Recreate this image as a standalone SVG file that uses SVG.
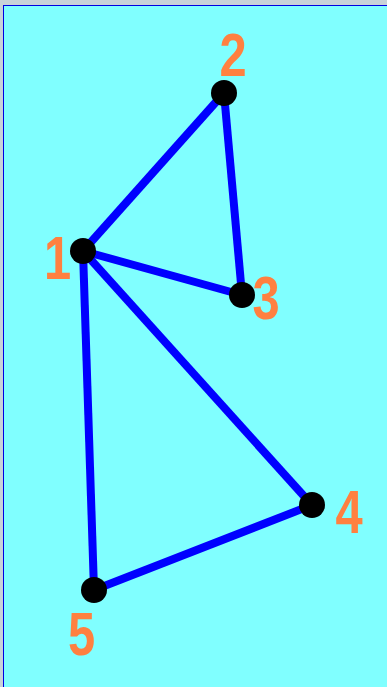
<svg xmlns="http://www.w3.org/2000/svg" width="387" height="687" viewBox="0 0 387 687">
<style>
.edge{stroke:#0000ff;stroke-width:8;stroke-linecap:butt;fill:none}
.node{fill:#000}
.lbl{font-family:"Liberation Sans",Arial,sans-serif;font-weight:bold;font-size:61px;fill:#ff8040;text-anchor:middle}
</style>
<rect x="0" y="0" width="387" height="687" fill="#c8d2d8"/>
<rect x="3.5" y="5.5" width="384" height="682" fill="#80ffff" stroke="#0000e0" stroke-width="1"/>
<g id="edges">
<line class="edge" x1="83" y1="251" x2="224" y2="93"/>
<line class="edge" x1="224" y1="93" x2="242" y2="295"/>
<line class="edge" x1="83" y1="251" x2="242" y2="295"/>
<line class="edge" x1="83" y1="251" x2="312" y2="505"/>
<line class="edge" x1="83" y1="251" x2="94" y2="590"/>
<line class="edge" x1="94" y1="590" x2="312" y2="505"/>
</g>
<g id="n1"><circle class="node" cx="83" cy="251" r="13"/><text class="lbl" transform="translate(57.5,279) scale(0.8,1)">1</text></g>
<g id="n2"><circle class="node" cx="224" cy="93" r="13"/><text class="lbl" transform="translate(233,76) scale(0.8,1)">2</text></g>
<g id="n3"><circle class="node" cx="242" cy="295" r="13"/><text class="lbl" transform="translate(266,319) scale(0.8,1)">3</text></g>
<g id="n4"><circle class="node" cx="312" cy="505" r="13"/><text class="lbl" transform="translate(349,533) scale(0.8,1)">4</text></g>
<g id="n5"><circle class="node" cx="94" cy="590" r="13"/><text class="lbl" transform="translate(81.5,655) scale(0.8,1)">5</text></g>
</svg>
